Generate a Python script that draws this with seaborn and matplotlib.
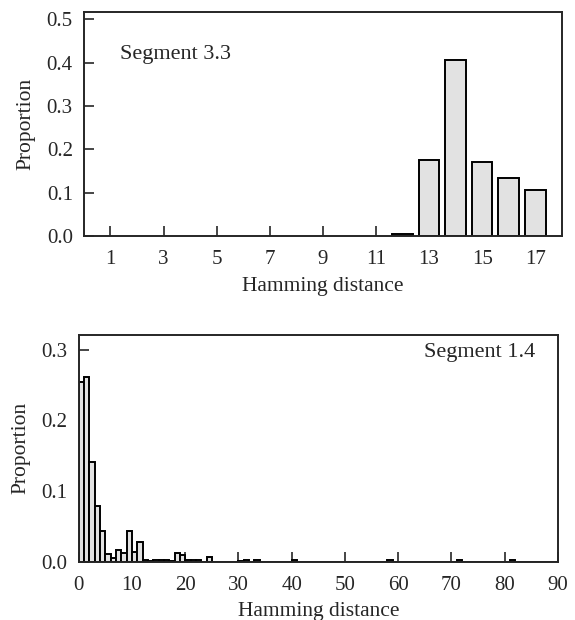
import numpy as np
import pandas as pd
import matplotlib
matplotlib.use("Agg")
import matplotlib.pyplot as plt
import seaborn as sns

# Segment 3.3 : proportion by Hamming distance
seg33_dist = [12, 13, 14, 15, 16, 17]
seg33_prop = [0.006, 0.175, 0.406, 0.171, 0.134, 0.106]

# Segment 1.4 : proportion by Hamming distance (bins of width 1)
seg14_dist = [0, 1, 2, 3, 4, 5, 6, 7, 8, 9, 10, 11, 12, 13, 14, 15, 16,
              17, 18, 19, 20, 21, 22, 24, 30, 31, 33, 40, 58, 71, 81]
seg14_prop = [0.254, 0.261, 0.141, 0.079, 0.043, 0.011, 0.005, 0.017, 0.013,
              0.043, 0.014, 0.028, 0.002, 0.001, 0.002, 0.002, 0.002,
              0.0015, 0.012, 0.009, 0.003, 0.002, 0.002, 0.006, 0.001, 0.003,
              0.003, 0.003, 0.003, 0.003, 0.003]

sns.set_style("ticks")
plt.rcParams['font.family'] = ['Liberation Serif', 'DejaVu Serif']
plt.rcParams['font.size'] = 15.5

fig = plt.figure(figsize=(5.75, 6.2), dpi=100)
ax1 = fig.add_axes([0.146, 0.619, 0.831, 0.362])
ax2 = fig.add_axes([0.137, 0.094, 0.833, 0.366])

bar_kw = dict(color="#e2e2e2", edgecolor="black", linewidth=1.4, alpha=1)

df1 = pd.DataFrame({"dist": seg33_dist, "prop": seg33_prop})
sns.histplot(data=df1, x="dist", weights="prop", discrete=True, shrink=0.78,
             ax=ax1, **bar_kw)
ax1.set_xlim(0, 18)
ax1.set_ylim(0, 0.517)
ax1.set_xticks(range(1, 18, 2))
ax1.set_yticks([0.0, 0.1, 0.2, 0.3, 0.4, 0.5])
ax1.set_yticklabels(["0.0", "0.1", "0.2", "0.3", "0.4", "0.5"])
ax1.set_xlabel("Hamming distance", labelpad=6)
ax1.set_ylabel("Proportion", labelpad=8)
ax1.text(0.075, 0.81, "Segment 3.3", transform=ax1.transAxes,
         fontsize=16, va="center", ha="left")

df2 = pd.DataFrame({"dist": seg14_dist, "prop": seg14_prop})
sns.histplot(data=df2, x="dist", weights="prop", bins=90, binrange=(0, 90),
             ax=ax2, **bar_kw)
ax2.set_xlim(0, 90)
ax2.set_ylim(0, 0.321)
ax2.set_xticks(range(0, 91, 10))
ax2.set_yticks([0.0, 0.1, 0.2, 0.3])
ax2.set_yticklabels(["0.0", "0.1", "0.2", "0.3"])
ax2.set_xlabel("Hamming distance", labelpad=5)
ax2.set_ylabel("Proportion", labelpad=8)
ax2.text(0.952, 0.92, "Segment 1.4", transform=ax2.transAxes,
         fontsize=16, va="center", ha="right")

for ax in (ax1, ax2):
    for s in ax.spines.values():
        s.set_visible(True)
        s.set_linewidth(1.4)
    ax.tick_params(direction="in", length=7, width=1.2, labelsize=15, pad=8)
    ax.tick_params(axis="x", pad=10)
    ax.tick_params(top=False, right=False)

fig.savefig("out.png", dpi=100)
